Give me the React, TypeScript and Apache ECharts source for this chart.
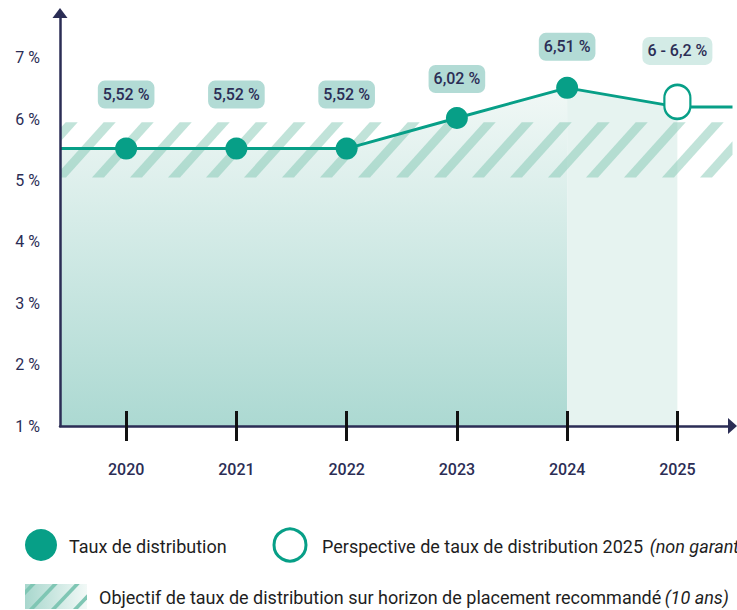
import React, { useEffect, useRef } from 'react';
import * as echarts from 'echarts';

// ---- data ----
const years = [2020, 2021, 2022, 2023, 2024, 2025];
const rates = [5.52, 5.52, 5.52, 6.02, 6.51, 6.2];
const rateLabels = ['5,52 %', '5,52 %', '5,52 %', '6,02 %', '6,51 %', '6 - 6,2 %'];
const yTicks = [1, 2, 3, 4, 5, 6, 7];
const xStart = 2019.4;
const xEnd = 2025.5;
const yMin = 1;
const yMax = 7.73;
const targetBand = [5.05, 5.95];
const legendFilled = 'Taux de distribution';
const legendHollow = 'Perspective de taux de distribution 2025';
const legendHollowNote = '(non garanti)';
const legendHatch = 'Objectif de taux de distribution sur horizon de placement recommandé';
const legendHatchNote = '(10 ans)';

const TEAL = '#079f87';
const NAVY = '#2b2d55';
const FONT = 'Roboto, "Noto Sans", sans-serif';

function clipAxis(pts: number[][], axis: number, bound: number, keepGreater: boolean) {
  const out: number[][] = [];
  for (let i = 0; i < pts.length; i++) {
    const a = pts[i];
    const b = pts[(i + 1) % pts.length];
    const ina = keepGreater ? a[axis] >= bound : a[axis] <= bound;
    const inb = keepGreater ? b[axis] >= bound : b[axis] <= bound;
    if (ina) out.push(a);
    if (ina !== inb) {
      const t = (bound - a[axis]) / (b[axis] - a[axis]);
      out.push([a[0] + t * (b[0] - a[0]), a[1] + t * (b[1] - a[1])]);
    }
  }
  return out;
}

function stripes(left: number, top: number, right: number, bottom: number, period: number, w: number, slope: number, phase: number) {
  const h = bottom - top;
  const dx = h * slope;
  const res: number[][][] = [];
  const startX = left + phase - Math.ceil((dx + w) / period + 1) * period;
  for (let x0 = startX; x0 < right; x0 += period) {
    let poly = [[x0, bottom], [x0 + w, bottom], [x0 + w + dx, top], [x0 + dx, top]];
    poly = clipAxis(poly, 0, left, true);
    if (poly.length < 3) continue;
    poly = clipAxis(poly, 0, right, false);
    if (poly.length < 3) continue;
    res.push(poly);
  }
  return res;
}

const capsule =
  'path://M13,0 C20.18,0 26,5.82 26,13 L26,21 C26,28.18 20.18,34 13,34 C5.82,34 0,28.18 0,21 L0,13 C0,5.82 5.82,0 13,0 Z';

export default function App() {
  const ref = useRef<HTMLDivElement>(null);

  useEffect(() => {
    if (!ref.current) return;
    const chart = echarts.init(ref.current, undefined, { renderer: 'svg' });

    const labelOffsets = [-54, -54, -54, -39, -41, -51];

    const lineData: any[] = [
      { value: [xStart, rates[0]], symbol: 'none' },
      ...years.map((y, i) => {
        const last = i === years.length - 1;
        return {
          value: [y, rates[i]],
          symbol: last ? capsule : 'circle',
          symbolSize: last ? [26, 34] : 22,
          symbolOffset: last ? [0, -5] : [0, 0],
          itemStyle: last
            ? { color: '#ffffff', borderColor: TEAL, borderWidth: 2.5 }
            : { color: TEAL, borderWidth: 0 },
          label: {
            show: true,
            position: 'inside',
            offset: [0, labelOffsets[i]],
            formatter: rateLabels[i],
            color: NAVY,
            fontFamily: FONT,
            fontSize: 16,
            fontWeight: 500,
            lineHeight: 18,
            backgroundColor: last ? '#d3ebe6' : '#b2dbd5',
            borderRadius: 7,
            padding: [5, 5, 5, 5],
          },
        };
      }),
      { value: [xEnd, rates[rates.length - 1]], symbol: 'none' },
    ];

    const areaMain = [[xStart, rates[0]], ...years.slice(0, 5).map((y, i) => [y, rates[i]])];
    const areaFuture = [[years[4], rates[4]], [years[5], rates[5]]];

    // legend hatch icon
    const icon = { x: 25, y: 584, w: 62, h: 25 };
    const iconStripes = stripes(icon.x, icon.y, icon.x + icon.w, icon.y + icon.h, 22, 5, 0.95, 4);

    const option: any = {
      animation: false,
      grid: { left: 60, right: 4.5, top: 13, bottom: 184 },
      xAxis: [
        {
          type: 'value',
          min: xStart,
          max: xEnd,
          position: 'bottom',
          z: 10,
          axisLine: {
            show: true,
            lineStyle: { color: NAVY, width: 2.5 },
            symbol: ['none', 'triangle'],
            symbolSize: [16, 9],
          },
          axisTick: {
            show: true,
            inside: false,
            length: 15,
            customValues: years,
            lineStyle: { color: '#111111', width: 3 },
          },
          axisLabel: {
            show: true,
            customValues: years,
            margin: 35,
            color: NAVY,
            fontFamily: FONT,
            fontSize: 16,
            fontWeight: 500,
            formatter: (v: number) => String(v),
          },
          splitLine: { show: false },
        },
        {
          type: 'value',
          min: xStart,
          max: xEnd,
          position: 'bottom',
          z: 11,
          axisLine: { show: false },
          axisTick: {
            show: true,
            inside: true,
            length: 15,
            customValues: years,
            lineStyle: { color: '#111111', width: 3 },
          },
          axisLabel: { show: false },
          splitLine: { show: false },
        },
      ],
      yAxis: {
        type: 'value',
        min: yMin,
        max: yMax,
        z: 10,
        axisLine: {
          show: true,
          lineStyle: { color: NAVY, width: 2.5 },
          symbol: ['none', 'triangle'],
          symbolSize: [15, 10],
        },
        axisTick: { show: false },
        splitLine: { show: false },
        axisLabel: {
          customValues: yTicks,
          margin: 20,
          color: NAVY,
          fontFamily: FONT,
          fontSize: 16,
          formatter: (v: number) => `${v} %`,
        },
      },
      series: [
        {
          type: 'line',
          data: areaMain,
          symbol: 'none',
          lineStyle: { width: 0 },
          z: 1,
          silent: true,
          areaStyle: {
            origin: 'start',
            opacity: 1,
            color: new echarts.graphic.LinearGradient(0, 0, 0, 1, [
              { offset: 0, color: '#f1f8f6' },
              { offset: 1, color: '#acd9d2' },
            ]),
          },
        },
        {
          type: 'line',
          data: areaFuture,
          symbol: 'none',
          lineStyle: { width: 0 },
          z: 1,
          silent: true,
          areaStyle: { origin: 'start', opacity: 1, color: '#e6f3f0' },
        },
        {
          type: 'custom',
          z: 2,
          silent: true,
          data: [[xStart, xEnd, targetBand[0], targetBand[1]]],
          encode: { x: [0, 1], y: [2, 3] },
          renderItem: (params: any, api: any) => {
            const p0 = api.coord([api.value(0), api.value(3)]);
            const p1 = api.coord([api.value(1), api.value(2)]);
            const polys = stripes(p0[0], p0[1], p1[0], p1[1], 38, 12, 0.9, -6);
            return {
              type: 'group',
              children: polys.map((pts) => ({
                type: 'polygon',
                shape: { points: pts },
                style: { fill: 'rgba(126,196,176,0.48)' },
              })),
            };
          },
        },
        {
          type: 'line',
          data: lineData,
          z: 3,
          silent: true,
          showAllSymbol: true,
          lineStyle: { color: TEAL, width: 3 },
          itemStyle: { color: TEAL },
        },
      ],
      graphic: [
        { type: 'circle', shape: { cx: 41, cy: 545, r: 16 }, style: { fill: TEAL } },
        {
          type: 'text',
          x: 69,
          y: 546,
          style: {
            text: legendFilled,
            fill: '#1e1e1e',
            font: `18px ${FONT}`,
            verticalAlign: 'middle',
          },
        },
        {
          type: 'circle',
          shape: { cx: 290, cy: 545, r: 16 },
          style: { fill: '#ffffff', stroke: TEAL, lineWidth: 3 },
        },
        {
          type: 'text',
          x: 322,
          y: 546,
          style: {
            text: `{n|${legendHollow}}  {i|${legendHollowNote}}`,
            verticalAlign: 'middle',
            rich: {
              n: { fill: '#1e1e1e', fontSize: 18, fontFamily: FONT },
              i: { fill: '#1e1e1e', fontSize: 18, fontFamily: FONT, fontStyle: 'italic' },
            },
          },
        },
        {
          type: 'rect',
          shape: { x: icon.x, y: icon.y, width: icon.w, height: icon.h },
          style: {
            fill: new echarts.graphic.LinearGradient(0, 0, 1, 0, [
              { offset: 0, color: '#a8d7cd' },
              { offset: 1, color: '#f2f9f7' },
            ]),
          },
        },
        ...iconStripes.map((pts) => ({
          type: 'polygon',
          shape: { points: pts },
          style: { fill: '#7fc6b4' },
        })),
        {
          type: 'text',
          x: 99,
          y: 597,
          style: {
            text: `{n|${legendHatch}} {i|${legendHatchNote}}`,
            verticalAlign: 'middle',
            rich: {
              n: { fill: '#1e1e1e', fontSize: 18, fontFamily: FONT },
              i: { fill: '#1e1e1e', fontSize: 18, fontFamily: FONT, fontStyle: 'italic' },
            },
          },
        },
      ],
    };

    chart.setOption(option);
    return () => chart.dispose();
  }, []);

  return (
    <div
      ref={ref}
      style={{ position: 'absolute', left: 0, top: 0, width: 737, height: 610 }}
    />
  );
}
